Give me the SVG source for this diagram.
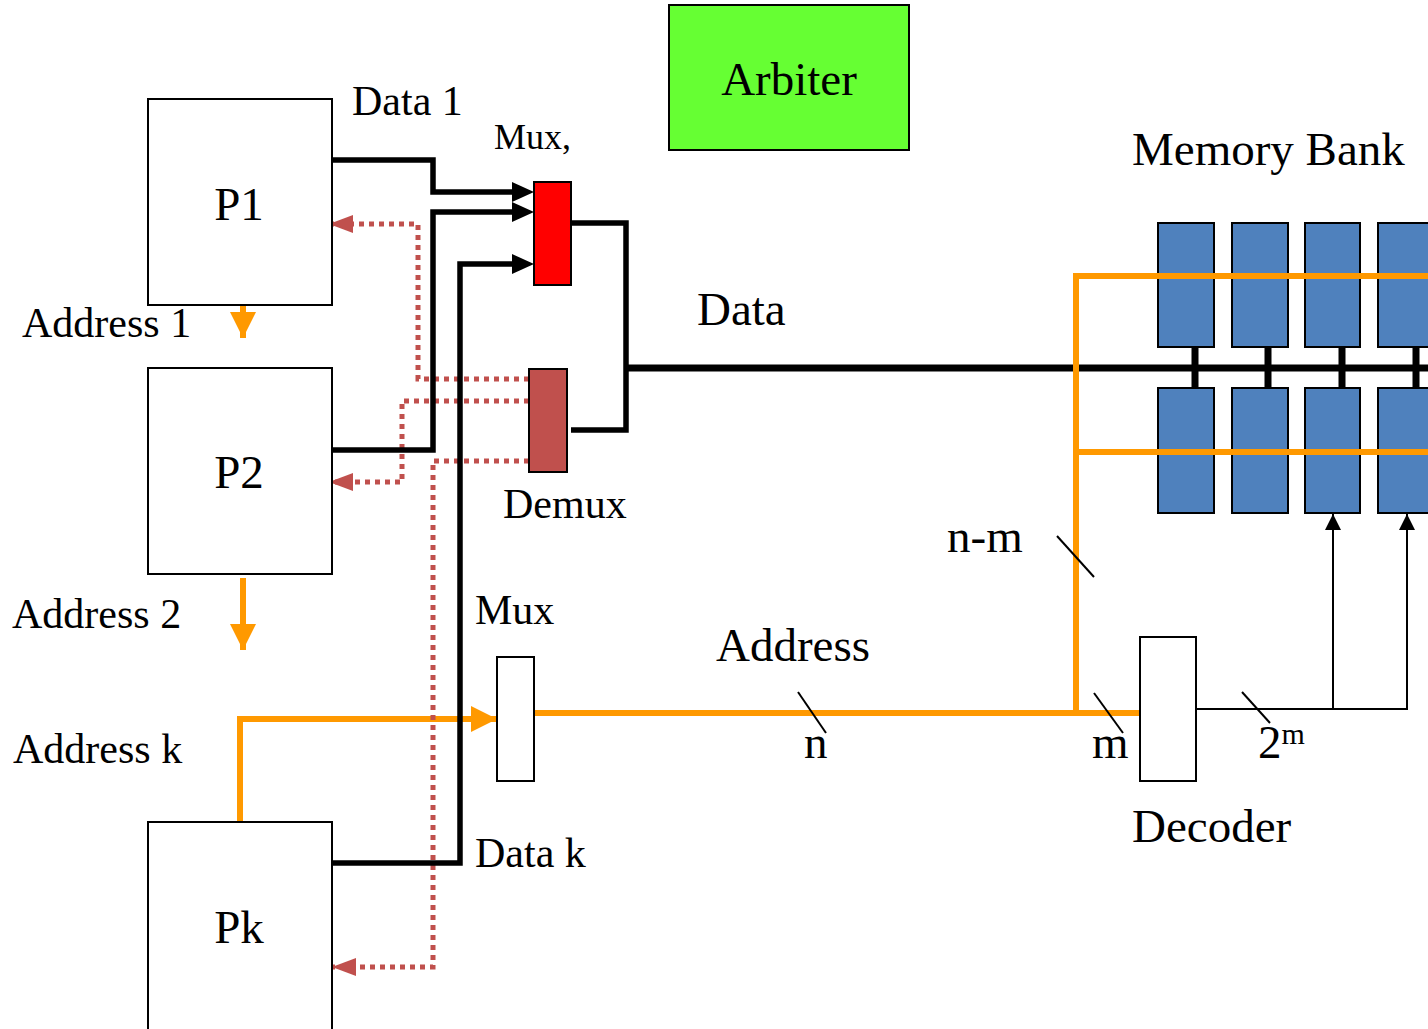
<svg xmlns="http://www.w3.org/2000/svg" width="1428" height="1029" viewBox="0 0 1428 1029">
<style>
text{font-family:"Liberation Serif","Times New Roman",serif;fill:#000}
.L{font-size:47px}.M{font-size:42px}
.box{fill:#fff;stroke:#000;stroke-width:2}
.cell{fill:#4F81BD;stroke:#000;stroke-width:2}
.blk{fill:none;stroke:#000;stroke-width:5.5}
.red{fill:none;stroke:#C0504D;stroke-width:5;stroke-dasharray:5 5}
.org{fill:none;stroke:#FF9900;stroke-width:6}
.thin{fill:none;stroke:#000;stroke-width:2}
.tick{stroke:#000;stroke-width:2}
</style>
<defs>
<marker id="ab" markerUnits="userSpaceOnUse" markerWidth="22" markerHeight="20" refX="0" refY="10" orient="auto"><path d="M0,0 L22,10 L0,20 Z" fill="#000"/></marker>
<marker id="ar" markerUnits="userSpaceOnUse" markerWidth="24" markerHeight="18" refX="24" refY="9" orient="auto"><path d="M0,0 L24,9 L0,18 Z" fill="#C0504D"/></marker>
<marker id="ao" markerUnits="userSpaceOnUse" markerWidth="26" markerHeight="26" refX="26" refY="13" orient="auto"><path d="M0,0 L26,13 L0,26 Z" fill="#FF9900"/></marker>
<marker id="at" markerUnits="userSpaceOnUse" markerWidth="16" markerHeight="16" refX="16" refY="8" orient="auto"><path d="M0,0 L16,8 L0,16 Z" fill="#000"/></marker>
</defs>

<g id="connectors">
<path class="org" d="M243,306 V338" marker-end="url(#ao)"/>
<path class="org" d="M243,578 V650" marker-end="url(#ao)"/>
<path class="org" d="M240,822 V719 H497" marker-end="url(#ao)"/>
<path class="org" d="M534,713 H1140"/>
<path class="red" d="M529,379 H418 V224 H329" marker-end="url(#ar)"/>
<path class="red" d="M529,401 H402 V482 H329" marker-end="url(#ar)"/>
<path class="red" d="M529,461 H433 V967 H332" marker-end="url(#ar)"/>
<path class="blk" d="M332,160 H433 V192 H512" marker-end="url(#ab)"/>
<path class="blk" d="M332,450 H433 V212 H512" marker-end="url(#ab)"/>
<path class="blk" d="M332,863 H460 V264 H512" marker-end="url(#ab)"/>
<path class="blk" d="M571,223 H626 V430 H571"/>
<path d="M626,368 H1428" fill="none" stroke="#000" stroke-width="7"/>
<path class="org" d="M1076,713 V276 H1428"/>
<path class="thin" d="M1196,709 H1407 V514" marker-end="url(#at)"/>
<path class="thin" d="M1333,709 V514" marker-end="url(#at)"/>
<line class="tick" x1="798" y1="692" x2="826" y2="733"/>
<line class="tick" x1="1057" y1="536" x2="1094" y2="577"/>
<line class="tick" x1="1094" y1="693" x2="1123" y2="733"/>
<line class="tick" x1="1242" y1="692" x2="1270" y2="723"/>
</g>

<g id="arbiter"><rect x="669" y="5" width="240" height="145" fill="#66FF33" stroke="#000" stroke-width="2"/><text class="L" x="789" y="95" text-anchor="middle">Arbiter</text></g>

<g id="p1"><rect class="box" x="148" y="99" width="184" height="206"/><text class="L" x="239" y="220" text-anchor="middle">P1</text></g>
<g id="p2"><rect class="box" x="148" y="368" width="184" height="206"/><text class="L" x="239" y="488" text-anchor="middle">P2</text></g>
<g id="pk"><rect class="box" x="148" y="822" width="184" height="210"/><text class="L" x="239" y="943" text-anchor="middle">Pk</text></g>

<g id="data-mux"><rect x="534" y="182" width="37" height="103" fill="#FF0000" stroke="#000" stroke-width="2"/></g>
<g id="demux"><rect x="529" y="369" width="38" height="103" fill="#C0504D" stroke="#000" stroke-width="2"/></g>
<g id="addr-mux"><rect class="box" x="497" y="657" width="37" height="124"/></g>
<g id="decoder"><rect class="box" x="1140" y="637" width="56" height="144"/></g>

<g id="memory-bank">
<path d="M1195,347 V388 M1268,347 V388 M1342,347 V388 M1416,347 V388" stroke="#000" stroke-width="7"/>
<rect class="cell" x="1158" y="223" width="56" height="124"/>
<rect class="cell" x="1232" y="223" width="56" height="124"/>
<rect class="cell" x="1305" y="223" width="55" height="124"/>
<rect class="cell" x="1378" y="223" width="56" height="124"/>
<rect class="cell" x="1158" y="388" width="56" height="125"/>
<rect class="cell" x="1232" y="388" width="56" height="125"/>
<rect class="cell" x="1305" y="388" width="55" height="125"/>
<rect class="cell" x="1378" y="388" width="56" height="125"/>
<path d="M1076,276 H1428 M1076,452 H1428" stroke="#FF9900" stroke-width="6"/>
</g>

<g id="labels">
<text class="M" x="352" y="115">Data 1</text>
<text x="494" y="149" style="font-size:36px">Mux,</text>
<text class="L" x="1132" y="165">Memory Bank</text>
<text class="M" x="22" y="337">Address 1</text>
<text class="L" x="697" y="325">Data</text>
<text class="M" x="503" y="518">Demux</text>
<text class="L" x="947" y="552">n-m</text>
<text class="M" x="12" y="628">Address 2</text>
<text class="M" x="475" y="624">Mux</text>
<text class="L" x="716" y="661">Address</text>
<text class="M" x="13" y="763">Address k</text>
<text class="L" x="804" y="758">n</text>
<text class="L" x="1092" y="758">m</text>
<text class="L" x="1258" y="758">2<tspan dy="-14" style="font-size:30px">m</tspan></text>
<text class="L" x="1132" y="842">Decoder</text>
<text class="M" x="475" y="867">Data k</text>
</g>
</svg>
